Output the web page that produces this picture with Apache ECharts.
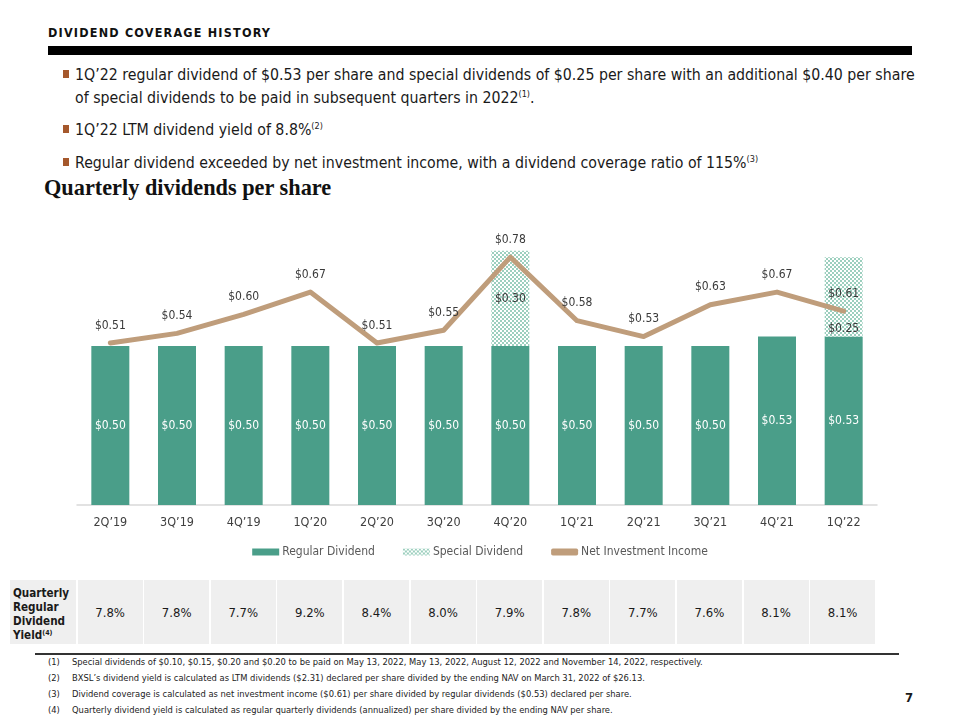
<!DOCTYPE html>
<html>
<head>
<meta charset="utf-8">
<script src="https://cdn.jsdelivr.net/npm/echarts@6/dist/echarts.min.js"></script>
<style>
  body { margin: 0; width: 960px; height: 720px; background: #fff; position: relative; overflow: hidden;
         font-family: "DejaVu Sans Condensed", "DejaVu Sans", sans-serif; color: #1a1a1a; }
  .abs { position: absolute; white-space: nowrap; }
  #title { left: 48px; top: 25px; font-size: 12.5px; font-weight: bold; letter-spacing: 1.2px; color: #111; }
  #rule { left: 48px; top: 46px; width: 864px; height: 9px; background: #000; }
  .bullet { left: 75px; font-size: 15.75px; line-height: 23px; }
  .bullet::before { content: ""; position: absolute; left: -12px; top: 7px; width: 6px; height: 8px; background: #a5582c; }
  sup { font-size: 9px; vertical-align: 6px; line-height: 0; }
  #heading { left: 44px; top: 175px; font-family: "Liberation Serif", "DejaVu Serif", serif; font-weight: bold; font-size: 22.3px; color: #111; }
  #chart { left: 0; top: 200px; width: 960px; height: 370px; }
  #yieldRow { left: 10px; top: 580px; height: 64px; display: flex; gap: 1.6px; }
  #yieldRow div { background: #efefef; height: 64px; display: flex; align-items: center; justify-content: center; font-size: 13px; color: #1a1a1a; }
  #yieldRow div.lab { width: 66px; display: block; padding: 6px 0 0 3px; box-sizing: border-box; font-weight: bold; font-size: 11.6px; line-height: 14px; }
  #yieldRow div.lab sup { font-size: 7px; vertical-align: 4px; }
  #footRule { left: 35px; top: 653px; width: 864px; height: 2px; background: #333; }
  .note { left: 48px; font-size: 9.3px; color: #222; }
  .note span { display: inline-block; width: 24px; }
  #page { left: 905px; top: 690px; font-size: 13px; font-weight: bold; }
</style>
</head>
<body>
<div id="title" class="abs">DIVIDEND COVERAGE HISTORY</div>
<div id="rule" class="abs"></div>
<div class="abs bullet" style="top:63px">1Q’22 regular dividend of $0.53 per share and special dividends of $0.25 per share with an additional $0.40 per share<br>of special dividends to be paid in subsequent quarters in 2022<sup>(1)</sup>.</div>
<div class="abs bullet" style="top:118px">1Q’22 LTM dividend yield of 8.8%<sup>(2)</sup></div>
<div class="abs bullet" style="top:151px">Regular dividend exceeded by net investment income, with a dividend coverage ratio of 115%<sup>(3)</sup></div>
<div id="heading" class="abs">Quarterly dividends per share</div>
<div id="chart" class="abs"></div>
<div id="yieldRow" class="abs"></div>
<div id="footRule" class="abs"></div>
<div class="abs note" style="top:656px"><span>(1)</span>Special dividends of $0.10, $0.15, $0.20 and $0.20 to be paid on May 13, 2022, May 13, 2022, August 12, 2022 and November 14, 2022, respectively.</div>
<div class="abs note" style="top:672px"><span>(2)</span>BXSL’s dividend yield is calculated as LTM dividends ($2.31) declared per share divided by the ending NAV on March 31, 2022 of $26.13.</div>
<div class="abs note" style="top:688px"><span>(3)</span>Dividend coverage is calculated as net investment income ($0.61) per share divided by regular dividends ($0.53) declared per share.</div>
<div class="abs note" style="top:704px"><span>(4)</span>Quarterly dividend yield is calculated as regular quarterly dividends (annualized) per share divided by the ending NAV per share.</div>
<div id="page" class="abs">7</div>

<script>
// chart data
const quarters = ['2Q’19', '3Q’19', '4Q’19', '1Q’20', '2Q’20', '3Q’20', '4Q’20', '1Q’21', '2Q’21', '3Q’21', '4Q’21', '1Q’22'];
const regularDiv = [0.50, 0.50, 0.50, 0.50, 0.50, 0.50, 0.50, 0.50, 0.50, 0.50, 0.53, 0.53];
const specialDiv = [null, null, null, null, null, null, 0.30, null, null, null, null, 0.25];
const netInvIncome = [0.51, 0.54, 0.60, 0.67, 0.51, 0.55, 0.78, 0.58, 0.53, 0.63, 0.67, 0.61];
const yieldLabels = ['7.8%', '7.8%', '7.7%', '9.2%', '8.4%', '8.0%', '7.9%', '7.8%', '7.7%', '7.6%', '8.1%', '8.1%'];

// yield row under the chart
const row = document.getElementById('yieldRow');
let lab = document.createElement('div');
lab.className = 'lab';
lab.innerHTML = 'Quarterly<br>Regular<br>Dividend<br>Yield<sup>(4)</sup>';
row.appendChild(lab);
yieldLabels.forEach(function (t) {
  let c = document.createElement('div');
  c.style.width = '65px';
  c.textContent = t;
  row.appendChild(c);
});

// checkered fill for special dividends
const pat = document.createElement('canvas');
pat.width = 4; pat.height = 4;
const ctx = pat.getContext('2d');
ctx.fillStyle = '#ffffff';
ctx.fillRect(0, 0, 4, 4);
ctx.fillStyle = '#9ccfbe';
ctx.fillRect(0, 0, 2, 2);
ctx.fillRect(2, 2, 2, 2);

const green = '#4a9e89';
const tan = '#bf9d7b';
const money = function (p) { return '$' + Number(p.value).toFixed(2); };

var myChart = echarts.init(document.getElementById('chart'), null, { renderer: 'canvas' });

var option = {
  animation: false,
  textStyle: { fontFamily: '"DejaVu Sans Condensed", "DejaVu Sans", sans-serif' },
  grid: { left: 77, width: 800, top: 19, height: 286 },
  legend: {
    top: 341,
    left: 'center',
    itemWidth: 27,
    itemHeight: 7,
    itemGap: 28,
    textStyle: { color: '#595959', fontSize: 12, padding: [0, 0, 0, -2] },
    data: [
      { name: 'Regular Dividend', icon: 'rect' },
      { name: 'Special Dividend', icon: 'rect' },
      { name: 'Net Investment Income', icon: 'roundRect' }
    ]
  },
  xAxis: {
    type: 'category',
    data: quarters,
    axisLine: { lineStyle: { color: '#d9d9d9', width: 1.5 } },
    axisTick: { show: false },
    axisLabel: { color: '#404040', fontSize: 12.5, margin: 11 }
  },
  yAxis: { type: 'value', min: 0, max: 0.9, show: false },
  series: [
    {
      name: 'Regular Dividend',
      type: 'bar',
      stack: 'div',
      barWidth: 38,
      data: regularDiv,
      itemStyle: { color: green },
      label: { show: true, position: 'inside', color: '#fff', fontSize: 12, formatter: money }
    },
    {
      name: 'Special Dividend',
      type: 'bar',
      stack: 'div',
      barWidth: 38,
      data: specialDiv.map(function (v, i) {
        if (v == null) return '-';
        return { value: v, label: { position: i === specialDiv.length - 1 ? 'insideBottom' : 'inside' } };
      }),
      itemStyle: { color: { image: pat, repeat: 'repeat' } },
      label: { show: true, color: '#3a3a3a', fontSize: 12, distance: 2, formatter: money }
    },
    {
      name: 'Net Investment Income',
      type: 'line',
      data: netInvIncome,
      z: 5,
      symbol: 'circle',
      symbolSize: 1,
      lineStyle: { color: tan, width: 5, cap: 'round', join: 'round' },
      itemStyle: { color: tan },
      label: { show: true, position: 'top', distance: 11, color: '#3a3a3a', fontSize: 12, formatter: money }
    }
  ]
};

if (option && typeof option === 'object') {
  myChart.setOption(option);
}
</script>
</body>
</html>
